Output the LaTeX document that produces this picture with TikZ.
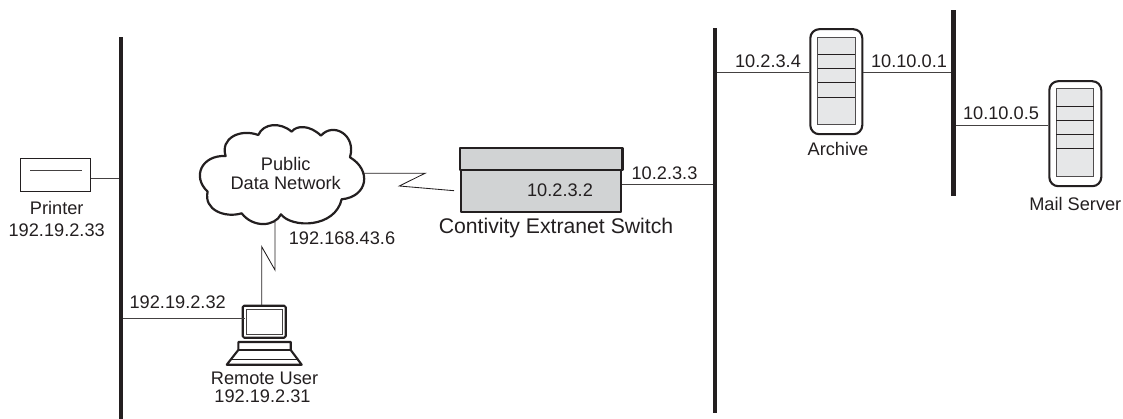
\documentclass[tikz,border=0pt]{standalone}
\usepackage{fontspec}
\setmainfont{Liberation Sans}
\definecolor{ink}{HTML}{231F20}
\definecolor{boxgray}{HTML}{D1D3D4}
\definecolor{srvgray}{HTML}{E6E7E8}
\tikzset{
 x=1pt,y=-1pt,
 busbar/.style={fill=ink,draw=none,minimum width=4.6pt,inner sep=0pt,outer sep=0pt},
 wire/.style={line width=0.9pt,draw=ink!85},
 lab/.style={inner sep=0pt,anchor=base,font=\fontsize{18.2pt}{20pt}\selectfont,text=ink},
 heavy/.style={line width=2.1pt,draw=ink,line join=round},
 server/.style={heavy,rounded corners=9pt,fill=white,minimum width=52pt,minimum height=105pt,inner sep=0pt,outer sep=1pt},
 srvinner/.style={line width=0.9pt,draw=ink!80,fill=srvgray},
 srvline/.style={line width=0.9pt,draw=ink},
}
\newcommand{\srvdetail}[3]{%
 \draw[srvinner] (#1-19,#2+8.7) rectangle (#1+18.7,#2+96);
 \foreach \d in {26.2,40.4,54.6,68.8}{\draw[srvline] (#1-19,#2+\d) -- (#1+18.7,#2+\d);}
}
\begin{document}
\begin{tikzpicture}
\useasboundingbox (0,0) rectangle (1123,419);
% buses
\node[busbar,minimum height=382pt] (bus1) at (121,228) {};
\node[busbar,minimum height=385pt] (bus2) at (715,220.5) {};
\node[busbar,minimum height=186pt] (bus3) at (953.3,103) {};
% wire heights
\coordinate (yprinter) at (0,178);
\coordinate (ylaptop) at (0,318.3);
\coordinate (yswitch) at (0,184.3);
\coordinate (yarchive) at (0,72.3);
\coordinate (ymail) at (0,125);
% printer
\node[draw=ink,line width=0.9pt,minimum width=70.5pt,minimum height=33.2pt,inner sep=0pt] (printer) at (55.4,175) {};
\draw[line width=0.9pt,draw=ink!85] (30,170.7) -- (81.7,170.7);
\draw[wire] (printer.east |- yprinter) -- (bus1.west |- yprinter);
\node[lab] (printerlab) at (56.7,215) {Printer};
\node[lab] (printerip) at (56.7,237) {192.19.2.33};
% zigzags
\coordinate (zs1) at (425,173.3);
\coordinate (zs2) at (399.3,186);
\coordinate (zs3) at (454,190.7);
\coordinate (zl1) at (275,270);
\coordinate (zl2) at (261.7,246.7);
\coordinate (zl3) at (261.7,305);
\coordinate (cloudE) at (363,173.3);
\coordinate (cloudS) at (275,222);
\draw[line width=0.85pt,draw=ink,line join=miter] (cloudE) -- (zs1) -- (zs2) -- (zs3);
\draw[line width=0.85pt,draw=ink,line join=miter] (cloudS) -- (zl1) -- (zl2) -- (zl3);
% cloud
\begin{scope}[x=0.3333pt,y=-0.3333pt]
\draw[line width=2.2pt,draw=ink,fill=white,line join=round]
 (677,468) .. controls (605,465) and (575,530) .. (623,575)
 .. controls (610,630) and (675,655) .. (725,640)
 .. controls (760,685) and (825,680) .. (843,643)
 .. controls (875,685) and (1005,685) .. (1025,598)
 .. controls (1105,590) and (1115,510) .. (1050,472)
 .. controls (1070,405) and (1000,365) .. (963,407)
 .. controls (930,375) and (890,375) .. (875,395)
 .. controls (840,365) and (790,370) .. (775,405)
 .. controls (720,385) and (660,415) .. (677,468) -- cycle;
\end{scope}
\node[lab] (cloudl1) at (285.7,171) {Public};
\node[lab] (cloudl2) at (285.7,190) {Data Network};
\node[lab] (cloudip) at (342,245) {192.168.43.6};
% laptop
\node[heavy,rounded corners=1.5pt,minimum width=43pt,minimum height=32pt,inner sep=0pt,outer sep=1pt] (screen) at (264.2,321.7) {};
\draw[line width=1pt,draw=ink!85] (246,309.3) rectangle (282.7,334.3);
\draw[heavy,fill=white] (238.3,342) -- (238.3,350) -- (226.7,364.7) -- (301.7,364.7) -- (290.7,350) -- (290.7,342) -- cycle;
\draw[line width=1.2pt,draw=ink] (238.3,350) -- (290.7,350);
\draw[line width=1.2pt,draw=ink] (231,359.3) -- (298,359.3);
\draw[wire] (bus1.east |- ylaptop) -- (245,318.3);
\node[lab] (iplaptopwire) at (177.7,308.7) {192.19.2.32};
\node[lab] (remotelab) at (264.5,384.3) {Remote User};
\node[lab] (remoteip) at (262.5,402.7) {192.19.2.31};
% switch
\node[heavy,fill=boxgray,minimum width=160pt,minimum height=64pt,inner sep=0pt,outer sep=1pt] (switch) at (541,180) {};
\draw[heavy,fill=boxgray] (460,148) rectangle (622.5,170);
\draw[line width=1pt,draw=ink] (461,169.8) -- (621.5,169.8);
\draw[wire] (switch.east |- yswitch) -- (bus2.west |- yswitch);
\node[lab] (switchip) at (560,197) {10.2.3.2};
\node[lab,font=\fontsize{21.2pt}{24pt}\selectfont] (switchlab) at (556,234) {Contivity Extranet Switch};
\node[lab] (switchport) at (664.5,180) {10.2.3.3};
% archive
\node[server] (archive) at (836.3,81.7) {};
\srvdetail{836.7}{28.3}{}
\draw[wire] (bus2.east |- yarchive) -- (archive.west |- yarchive);
\draw[wire] (archive.east |- yarchive) -- (bus3.west |- yarchive);
\node[lab] (archiveip1) at (768,67.7) {10.2.3.4};
\node[lab] (archiveip2) at (909,67.7) {10.10.0.1};
\node[lab] (archivelab) at (838,155.7) {Archive};
% mail
\node[server] (mail) at (1075.3,133.7) {};
\srvdetail{1075}{80}{}
\draw[wire] (bus3.east |- ymail) -- (mail.west |- ymail);
\node[lab] (mailip) at (1001,120) {10.10.0.5};
\node[lab] (maillab) at (1075.3,210.7) {Mail Server};
\end{tikzpicture}
\end{document}
